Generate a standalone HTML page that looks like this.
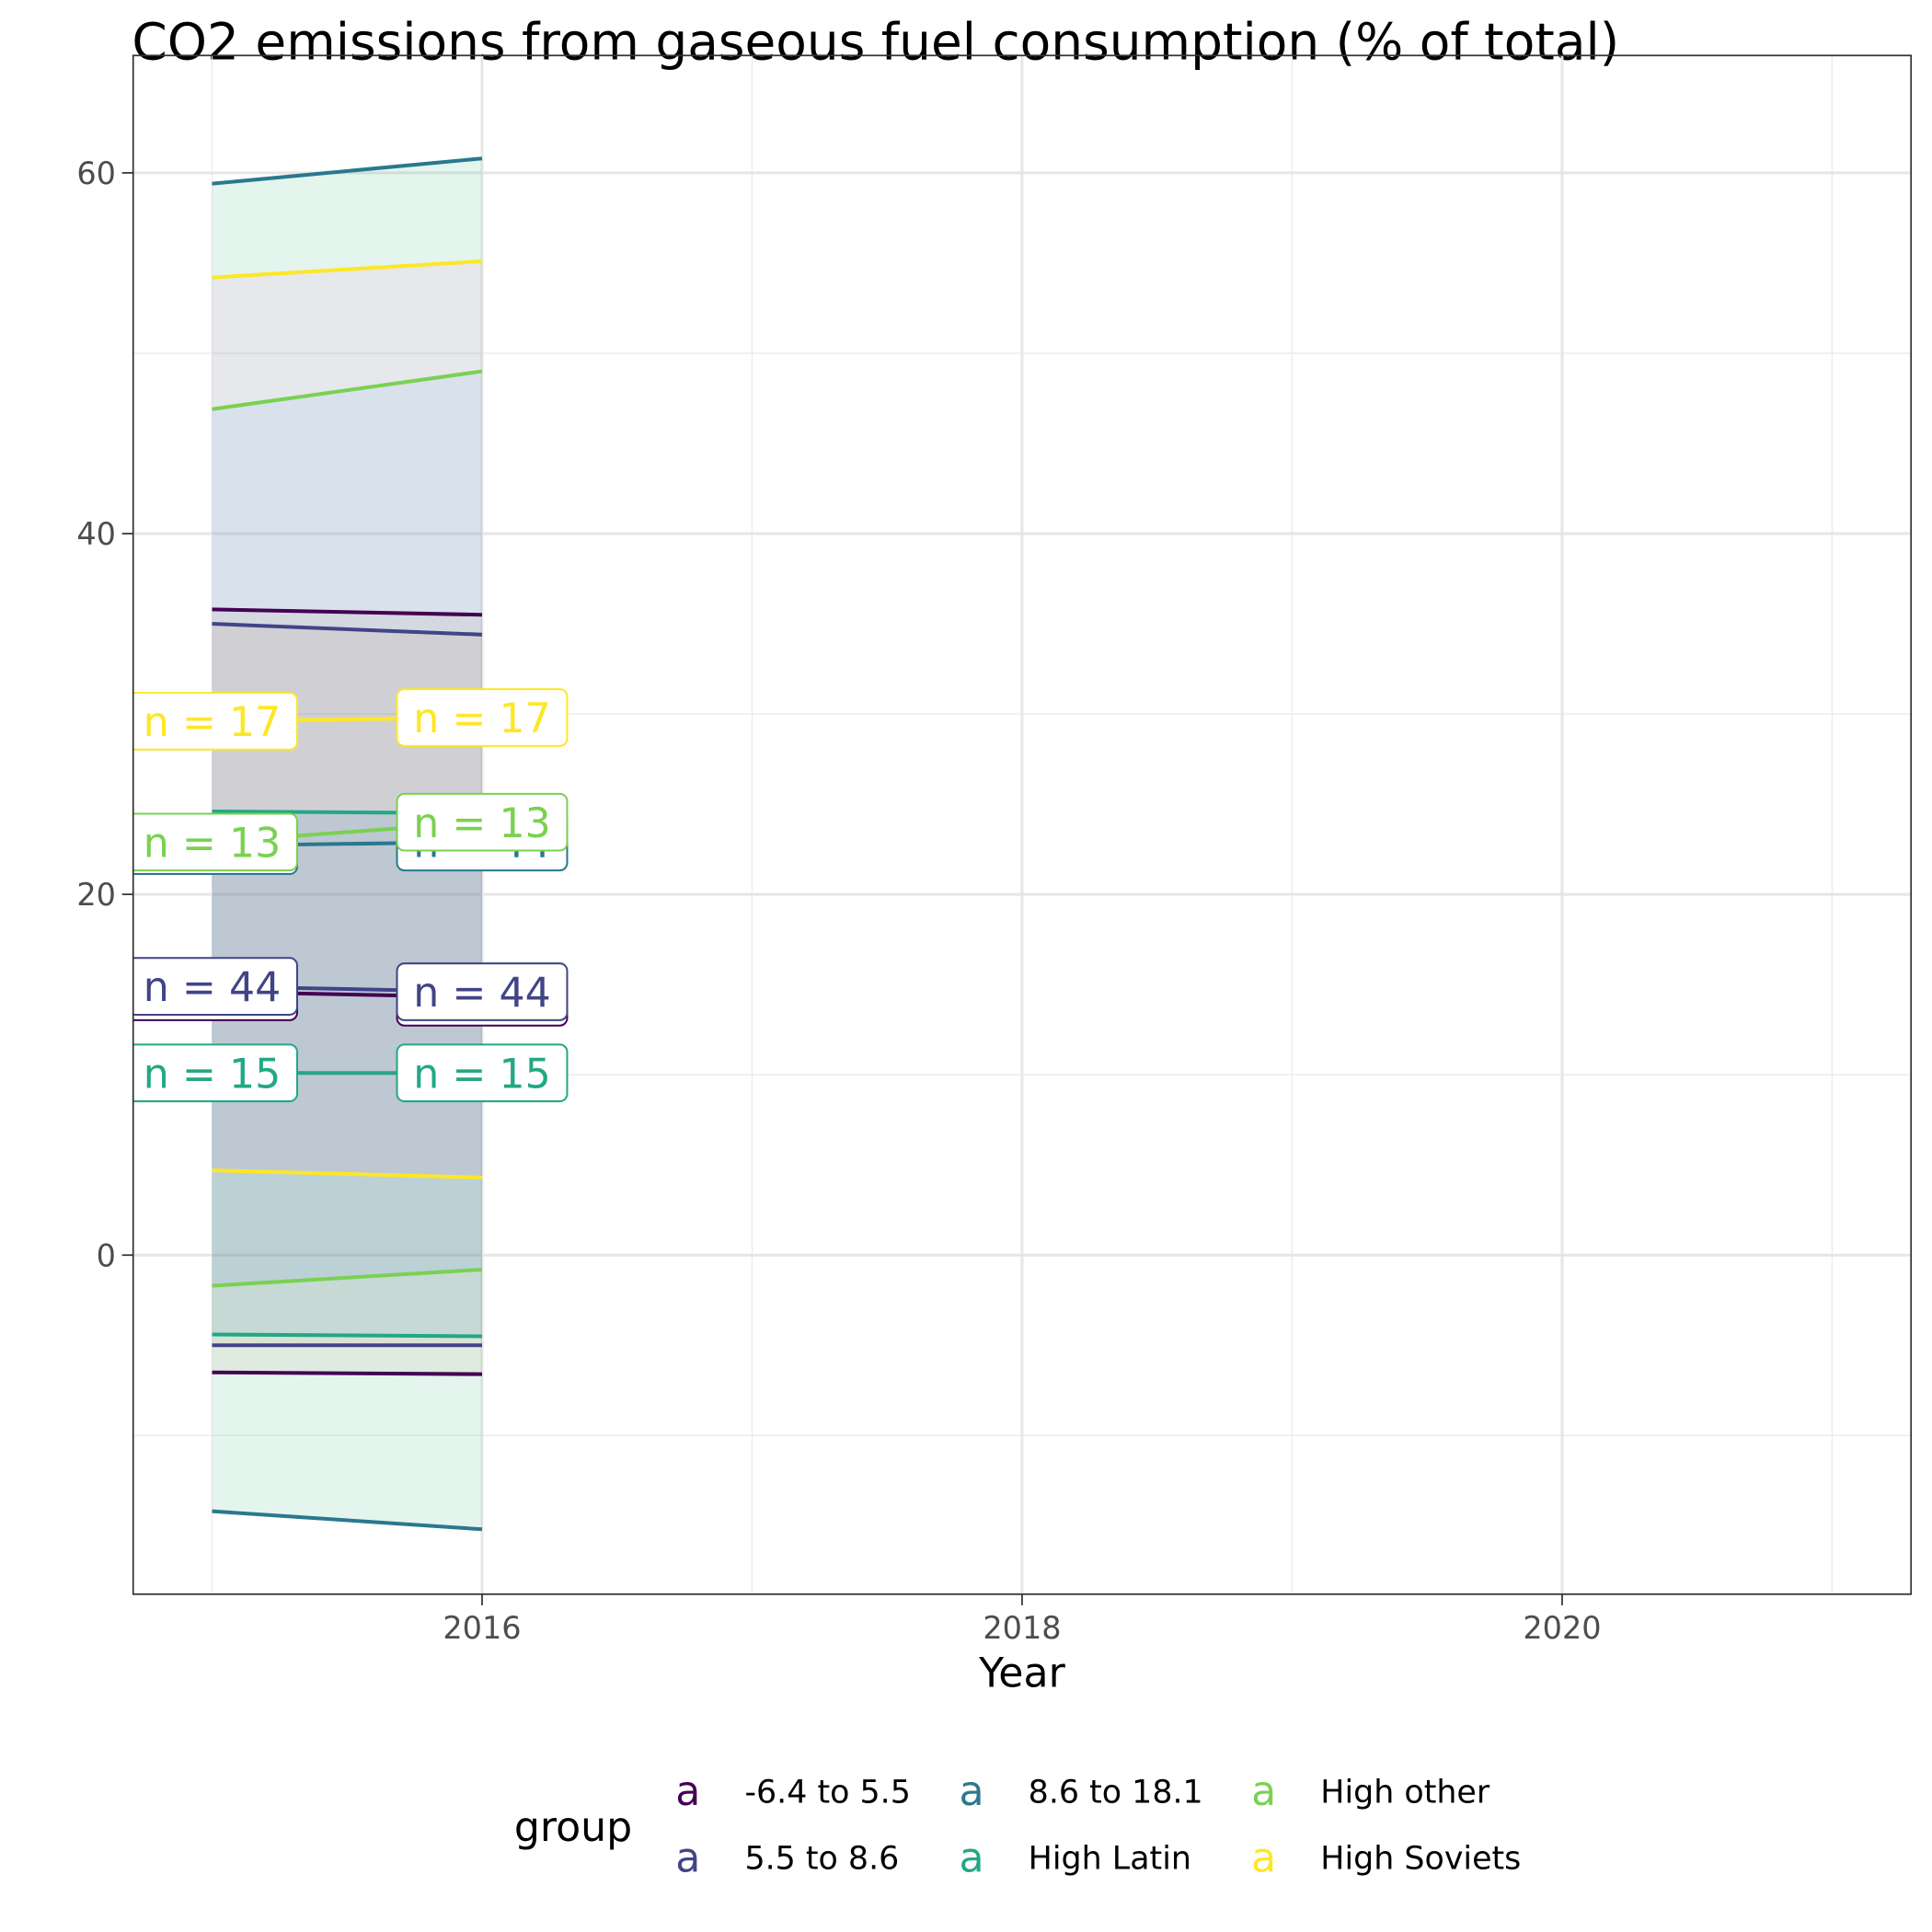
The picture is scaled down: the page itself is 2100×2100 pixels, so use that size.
<!DOCTYPE html>
<html><head><meta charset="utf-8"><style>
html,body{margin:0;padding:0;background:#fff}
svg{display:block}
text{font-family:"DejaVu Sans","Liberation Sans",sans-serif}
</style></head><body>
<svg id="chart" width="2100" height="2100" viewBox="0 0 1567 1567" xmlns="http://www.w3.org/2000/svg">
<rect x="0" y="0" width="1567" height="1567" fill="#fff"/>
<text x="107" y="48" font-size="41" fill="#000">CO2 emissions from gaseous fuel consumption (% of total)</text>
<g id="grid"></g>
<g id="ribbons"></g>
<g id="lines"></g>
<g id="labels"></g>
<rect x="108" y="45" width="1442" height="1248" fill="none" stroke="#333" stroke-width="1.3"/>
<g id="axes"></g>
<text x="829" y="1368" font-size="33" text-anchor="middle" fill="#000">Year</text>
<g id="legend"></g>
</svg>
<script>
const years = [2015, 2016];
const groups = ["-6.4 to 5.5", "5.5 to 8.6", "8.6 to 18.1", "High Latin", "High other", "High Soviets"];
const colors = ["#440154", "#414487", "#2A788E", "#22A884", "#7AD151", "#FDE725"];
const upper = [[35.8, 35.5], [35.0, 34.4], [59.4, 60.8], [24.6, 24.5], [46.9, 49.0], [54.2, 55.1]];
const median = [[14.6, 14.3], [14.9, 14.6], [22.7, 22.9], [10.1, 10.1], [22.9, 24.0], [29.6, 29.8]];
const lower = [[-6.5, -6.6], [-5.0, -5.0], [-14.2, -15.2], [-4.4, -4.5], [-1.7, -0.8], [4.7, 4.3]];
const counts = [44, 44, 44, 15, 13, 17];
const ribbonFill = ["#8F3300", "#8F3300", "#2DB27D", "#1E8CD0", "#70A2FF", "#FF73D6"];
const ribbonAlpha = [0.05, 0.05, 0.13, 0.1, 0.1, 0.1];
const drawOrder = [2, 5, 4, 0, 1, 3];
const xTicks = [2016, 2018, 2020];
const xMinor = [2015, 2017, 2019, 2021];
const yTicks = [0, 20, 40, 60];
const yMinor = [-10, 10, 30, 50];

const NS = "http://www.w3.org/2000/svg";
const X0 = 108, X1 = 1550, Y0 = 45, Y1 = 1293;
const xs = v => 391 + (v - 2016) * 219;
const ys = v => 1018 - v * 14.63;
function mk(tag, attrs, parent) {
  const e = document.createElementNS(NS, tag);
  for (const k in attrs) e.setAttribute(k, attrs[k]);
  parent.appendChild(e);
  return e;
}
const grid = document.getElementById("grid");
xMinor.forEach(v => { const l = mk("line", {x1: xs(v), x2: xs(v), y1: Y0, y2: Y1, stroke: "#ebebeb", "stroke-width": 1}, grid);
  
   });
yMinor.forEach(v => { const l = mk("line", {x1: X0, x2: X1, y1: ys(v), y2: ys(v), stroke: "#ebebeb", "stroke-width": 1}, grid);
  
   });
xTicks.forEach(v => { const l = mk("line", {x1: xs(v), x2: xs(v), y1: Y0, y2: Y1, stroke: "#e6e6e6", "stroke-width": 2.2}, grid);
  
   });
yTicks.forEach(v => { const l = mk("line", {x1: X0, x2: X1, y1: ys(v), y2: ys(v), stroke: "#e6e6e6", "stroke-width": 2.2}, grid);
  
   });

const rib = document.getElementById("ribbons");
const lines = document.getElementById("lines");
drawOrder.forEach(i => {
  const pts = years.map((y, j) => xs(y) + "," + ys(upper[i][j])).concat(years.slice().reverse().map((y, jj) => { const j = years.length - 1 - jj; return xs(y) + "," + ys(lower[i][j]); }));
  const p = mk("polygon", {points: pts.join(" "), fill: ribbonFill[i], "fill-opacity": ribbonAlpha[i]}, rib);
  
  
});
groups.forEach((g, i) => {
  [upper, median, lower].forEach((arr, k) => {
    const pts = years.map((y, j) => xs(y) + "," + ys(arr[i][j])).join(" ");
    const l = mk("polyline", {points: pts, fill: "none", stroke: colors[i], "stroke-width": 3}, lines);
    
    
  });
});

const labels = document.getElementById("labels");
const clip = mk("clipPath", {id: "pclip"}, labels);
mk("rect", {x: X0, y: Y0, width: X1 - X0, height: Y1 - Y0}, clip);
const lg = mk("g", {"clip-path": "url(#pclip)"}, labels);
groups.forEach((g, i) => {
  years.forEach((y, j) => {
    const cx = xs(y), cy = ys(median[i][j]);
    const r = mk("rect", {x: cx - 69, y: cy - 23, width: 138, height: 46, rx: 6, fill: "#fff", stroke: colors[i], "stroke-width": 1.5}, lg);
    
    
    const t = mk("text", {x: cx, y: cy + 12, "font-size": 33, "text-anchor": "middle", fill: colors[i]}, lg);
    t.textContent = "n = " + counts[i];
    
    
  });
});

const axes = document.getElementById("axes");
xTicks.forEach(v => {
  const l = mk("line", {x1: xs(v), x2: xs(v), y1: Y1, y2: Y1 + 9, stroke: "#333", "stroke-width": 1.3}, axes);
  
  
  const t = mk("text", {x: xs(v), y: Y1 + 36, "font-size": 25, "text-anchor": "middle", fill: "#4d4d4d"}, axes);
  t.textContent = v;
  
  
});
yTicks.forEach(v => {
  const l = mk("line", {x1: X0 - 9, x2: X0, y1: ys(v), y2: ys(v), stroke: "#333", "stroke-width": 1.3}, axes);
  
  
  const t = mk("text", {x: X0 - 14, y: ys(v) + 9, "font-size": 25, "text-anchor": "end", fill: "#4d4d4d"}, axes);
  t.textContent = v;
  
  
});

const leg = document.getElementById("legend");
const lt = mk("text", {x: 417, y: 1493, "font-size": 33, fill: "#000"}, leg);
lt.textContent = "group";


const colX = [558, 788, 1025];
const rowY = [1464, 1518];
groups.forEach((g, i) => {
  const c = Math.floor(i / 2), r = i % 2;
  const k = mk("text", {x: colX[c], y: rowY[r], "font-size": 33, "text-anchor": "middle", fill: colors[i]}, leg);
  k.textContent = "a";
  
  
  const t = mk("text", {x: colX[c] + 46, y: rowY[r] - 2, "font-size": 26, fill: "#000"}, leg);
  t.textContent = g;
  
  
});
</script>
</body></html>
